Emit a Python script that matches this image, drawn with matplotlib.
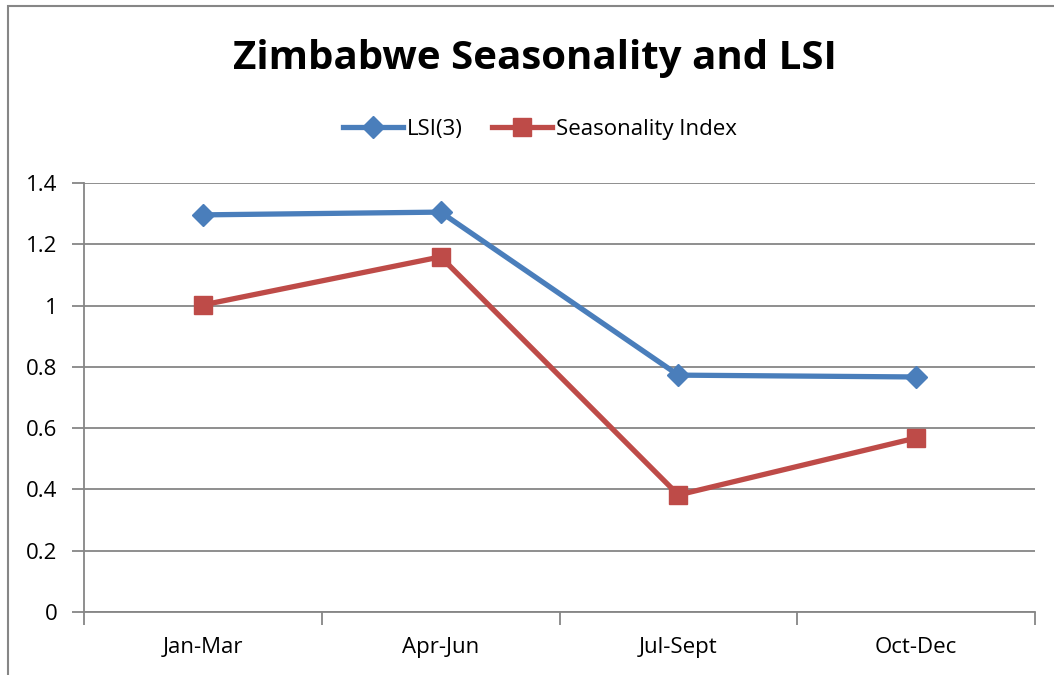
import matplotlib.pyplot as plt
from matplotlib.patches import Rectangle
import numpy as np

plt.rcParams['font.family'] = ['Open Sans', 'DejaVu Sans']

categories = ['Jan-Mar', 'Apr-Jun', 'Jul-Sept', 'Oct-Dec']
lsi = [1.296, 1.305, 0.773, 0.767]
seasonality = [1.002, 1.159, 0.382, 0.568]
yticks = [0, 0.2, 0.4, 0.6, 0.8, 1, 1.2, 1.4]
ytick_labels = ['0', '0.2', '0.4', '0.6', '0.8', '1', '1.2', '1.4']

grey = '#868686'

fig = plt.figure(figsize=(10.54, 6.75), dpi=100)
ax = fig.add_axes([84 / 1054, 63 / 675, 951 / 1054, 429 / 675])

x = np.arange(len(categories)) + 0.5

# gridlines
for y in yticks:
    ax.axhline(y, color=grey, linewidth=1.3, zorder=1)

ax.plot(x, lsi, color='#4A7EBB', linewidth=3.8, marker='D', markersize=11,
        label='LSI(3)', zorder=3)
ax.plot(x, seasonality, color='#BE4B48', linewidth=3.8, marker='s', markersize=13,
        label='Seasonality Index', zorder=3)

ax.set_xlim(0, 4)
ax.set_ylim(0, 1.4)
ax.set_yticks(yticks)
ax.set_yticklabels(ytick_labels, fontsize=16)
ax.set_xticks(np.arange(5))
ax.set_xticklabels([])
ax.set_xticks(x, minor=True)
ax.set_xticklabels(categories, minor=True, fontsize=16)
ax.tick_params(axis='x', which='major', length=9, width=1.3, color=grey)
ax.tick_params(axis='x', which='minor', length=0, pad=18)
ax.tick_params(axis='y', length=9, width=1.3, color=grey, pad=10)

for side in ['top', 'right']:
    ax.spines[side].set_visible(False)
ax.spines['left'].set_color(grey)
ax.spines['left'].set_linewidth(1.3)
ax.spines['bottom'].set_color(grey)
ax.spines['bottom'].set_linewidth(1.3)

fig.text(535 / 1054, 1 - 59 / 675, 'Zimbabwe Seasonality and LSI', ha='center', va='center',
         fontsize=29, fontweight='bold')

fig.legend(loc='center', bbox_to_anchor=(540 / 1054, 1 - 129 / 675), ncol=2, frameon=False,
           fontsize=16, handlelength=2.7, columnspacing=1.3, handletextpad=0.2)

# outer chart border
fig.patches.append(Rectangle((8 / 1054, -0.1), 1.2, 1 - 6 / 675 + 0.1, transform=fig.transFigure,
                             fill=False, edgecolor=grey, linewidth=1.5))

fig.savefig('out.png', dpi=100)
